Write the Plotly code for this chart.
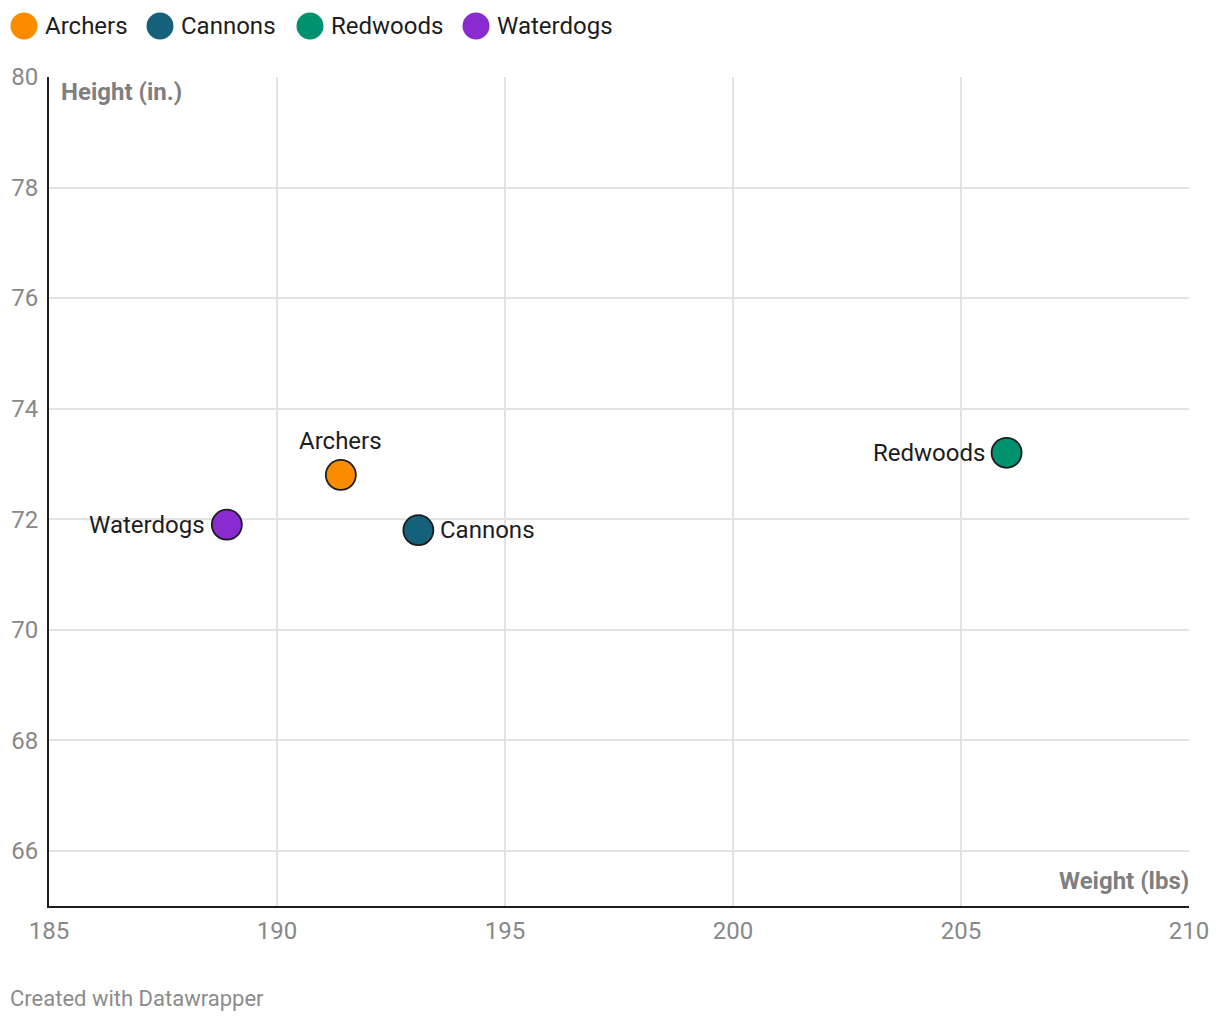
import plotly.graph_objects as go

teams = ["Archers", "Cannons", "Redwoods", "Waterdogs"]
weights = [191.4, 193.1, 206.0, 188.9]
heights = [72.8, 71.8, 73.2, 71.9]
colors = ["#fa8c00", "#15607a", "#00916e", "#8a2bd0"]
label_pos = ["above", "right", "left", "left"]

x_ticks = [185, 190, 195, 200, 205, 210]
y_ticks = [66, 68, 70, 72, 74, 76, 78, 80]

W, H = 1220, 1022
ML, MR, MT, MB = 49, 31, 77, 116
PW, PH = W - ML - MR, H - MT - MB

FONT = "Roboto"
fig = go.Figure()

for t, xv, yv, c in zip(teams, weights, heights, colors):
    fig.add_trace(go.Scatter(
        x=[xv], y=[yv], mode="markers", name=t, showlegend=False,
        marker=dict(size=30, color=c, line=dict(color="#1d1d1d", width=1.8)),
        hoverinfo="skip",
    ))

annotations = []
for t, xv, yv, pos in zip(teams, weights, heights, label_pos):
    a = dict(x=xv, y=yv, xref="x", yref="y", text=t, showarrow=False,
             font=dict(family=FONT, size=24, color="#1d1d1d"))
    if pos == "above":
        a.update(yshift=34, xanchor="center", yanchor="middle")
    elif pos == "right":
        a.update(xshift=20, xanchor="left", yanchor="middle")
    else:
        a.update(xshift=-20, xanchor="right", yanchor="middle")
    annotations.append(a)

def px_x(p):
    return (p - ML) / PW

def px_y(p):
    return 1 - (p - MT) / PH

shapes = []
leg_cx = [24, 160, 310, 476]
leg_cy = 26
r = 13.5
for t, c, cx in zip(teams, colors, leg_cx):
    shapes.append(dict(type="circle", xref="paper", yref="paper",
                       x0=px_x(cx - r), x1=px_x(cx + r),
                       y0=px_y(leg_cy + r), y1=px_y(leg_cy - r),
                       fillcolor=c, line=dict(width=0)))
    annotations.append(dict(x=px_x(cx + r + 5), y=px_y(leg_cy), xref="paper", yref="paper",
                            text=t, showarrow=False, xanchor="left", yanchor="middle",
                            font=dict(family=FONT, size=24, color="#1d1d1d")))

annotations.append(dict(x=px_x(59), y=px_y(92), xref="paper", yref="paper",
                        text="<b>Height (in.)</b>", showarrow=False,
                        xanchor="left", yanchor="middle",
                        font=dict(family=FONT, size=24, color="#7f7f7f")))
annotations.append(dict(x=px_x(1191), y=px_y(881), xref="paper", yref="paper",
                        text="<b>Weight (lbs)</b>", showarrow=False,
                        xanchor="right", yanchor="middle",
                        font=dict(family=FONT, size=24, color="#7f7f7f")))
annotations.append(dict(x=px_x(8), y=px_y(998), xref="paper", yref="paper",
                        text="Created with Datawrapper", showarrow=False,
                        xanchor="left", yanchor="middle",
                        font=dict(family=FONT, size=22, color="#8c8c8c")))

fig.update_layout(
    width=W, height=H,
    margin=dict(l=ML, r=MR, t=MT, b=MB, pad=0),
    paper_bgcolor="white", plot_bgcolor="white",
    showlegend=False,
    annotations=annotations, shapes=shapes,
    font=dict(family=FONT),
    xaxis=dict(range=[185, 210], tickvals=x_ticks, ticktext=[str(v) for v in x_ticks],
               showgrid=True, gridcolor="#e3e3e3", gridwidth=1.5, automargin=False,
               zeroline=False, showline=True, linecolor="#1d1d1d", linewidth=2,
               ticks="", ticklabelstandoff=2,
               tickfont=dict(family=FONT, size=24, color="#888888")),
    yaxis=dict(range=[65, 80], tickvals=y_ticks, ticktext=[str(v) for v in y_ticks],
               showgrid=True, gridcolor="#e3e3e3", gridwidth=1.5, automargin=False,
               zeroline=False, showline=True, linecolor="#1d1d1d", linewidth=2,
               ticks="", ticklabelstandoff=4,
               tickfont=dict(family=FONT, size=24, color="#888888")),
)

fig.write_html("out.html",
               config={"displayModeBar": False},
               post_script="document.body.style.margin='0';document.body.style.overflow='hidden';")
